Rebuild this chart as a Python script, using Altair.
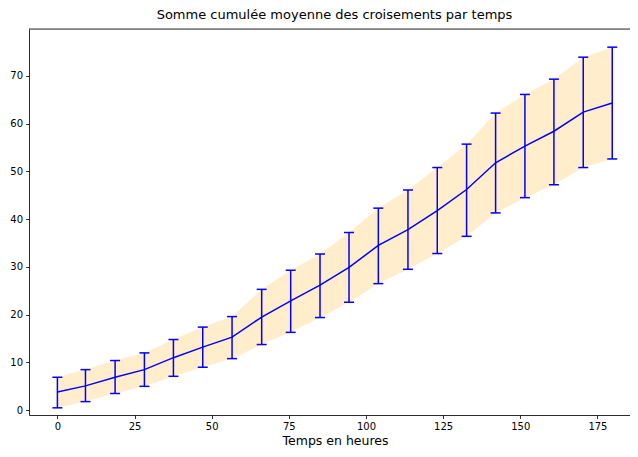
import altair as alt
import pandas as pd

# Values
hours = [0.0, 9.1, 18.7, 28.2, 37.6, 47.1, 56.6, 66.2, 75.6, 85.1,
         94.5, 104.0, 113.6, 123.1, 132.6, 142.0, 151.5, 160.9, 170.4, 179.8]
mean_vals = [3.8, 5.1, 6.9, 8.5, 11.0, 13.2, 15.3, 19.5, 22.9, 26.2,
             29.9, 34.5, 37.8, 41.8, 46.2, 51.8, 55.3, 58.4, 62.4, 64.3]
lower_vals = [0.5, 1.8, 3.5, 5.0, 7.1, 9.0, 10.8, 13.75, 16.3, 19.4,
              22.6, 26.5, 29.5, 32.8, 36.4, 41.3, 44.5, 47.2, 50.8, 52.6]
upper_vals = [6.9, 8.5, 10.4, 12.0, 14.8, 17.4, 19.6, 25.3, 29.3, 32.7,
              37.2, 42.3, 46.1, 50.8, 55.7, 62.2, 66.1, 69.3, 73.9, 76.0]
x_ticks = [0, 25, 50, 75, 100, 125, 150, 175]
y_ticks = [0, 10, 20, 30, 40, 50, 60, 70]

title_text = "Somme cumulée moyenne des croisements par temps"
x_title = "Temps en heures"

df = pd.DataFrame({"t": hours, "m": mean_vals, "lo": lower_vals, "hi": upper_vals})

FONT = "DejaVu Sans"
BLUE = "#0000FF"
W, H = 601, 386

xscale = alt.Scale(domain=[-9.2, -9.2 + W / 3.086], nice=False, zero=False)
yscale = alt.Scale(domain=[-1.0, 79.8], nice=False, zero=False)

x_enc = alt.X("t:Q", scale=xscale,
              axis=alt.Axis(values=x_ticks, title=x_title, grid=False,
                            domain=True, domainColor="black", domainWidth=0.8,
                            tickSize=3.5, tickColor="black", tickWidth=0.8,
                            labelFont=FONT, labelFontSize=10, labelColor="black",
                            labelPadding=3, titleFont=FONT, titleFontSize=12.5,
                            titleFontWeight="normal", titleColor="black",
                            titleBaseline="top", titleAlign="center",
                            titleX=306, titleY=19, labelFlush=False))
y_axis = alt.Axis(values=y_ticks, title=None, grid=False,
                  domain=True, domainColor="black", domainWidth=0.8,
                  tickSize=3.5, tickColor="black", tickWidth=0.8,
                  labelFont=FONT, labelFontSize=10, labelColor="black",
                  labelPadding=3, labelFlush=False)

base = alt.Chart(df)

band = base.mark_area(color="#FFA500", opacity=0.2).encode(
    x=x_enc,
    y=alt.Y("lo:Q", scale=yscale, axis=y_axis),
    y2="hi:Q",
)
line = base.mark_line(color=BLUE, strokeWidth=1.5).encode(
    x=alt.X("t:Q", scale=xscale),
    y=alt.Y("m:Q", scale=yscale, title=None),
)
bars = base.mark_rule(color=BLUE, strokeWidth=1.5).encode(
    x=alt.X("t:Q", scale=xscale),
    y=alt.Y("lo:Q", scale=yscale, title=None),
    y2="hi:Q",
)
cap_hi = base.mark_tick(orient="horizontal", size=10, thickness=1.5, color=BLUE, opacity=1).encode(
    x=alt.X("t:Q", scale=xscale),
    y=alt.Y("hi:Q", scale=yscale, title=None),
)
cap_lo = base.mark_tick(orient="horizontal", size=10, thickness=1.5, color=BLUE, opacity=1).encode(
    x=alt.X("t:Q", scale=xscale),
    y=alt.Y("lo:Q", scale=yscale, title=None),
)
# top spine of the frame (right spine lies outside the visible area)
top_spine = alt.Chart(pd.DataFrame({"k": [0]})).mark_rule(color="black", strokeWidth=0.8).encode(
    x=alt.value(0), x2=alt.value(W), y=alt.value(0)
)

chart = alt.layer(band, line, bars, cap_hi, cap_lo, top_spine).properties(
    width=W,
    height=H,
    autosize=alt.AutoSizeParams(type="none"),
    padding={"left": 21, "top": 21, "right": 0, "bottom": 34},
    title=alt.TitleParams(title_text, font=FONT, fontSize=13, fontWeight="normal",
                          color="black", anchor="middle", offset=7, dx=5),
).configure_view(
    stroke=None
).configure(background="white")

chart.save("out.html", embed_options={"renderer": "svg", "actions": False})
